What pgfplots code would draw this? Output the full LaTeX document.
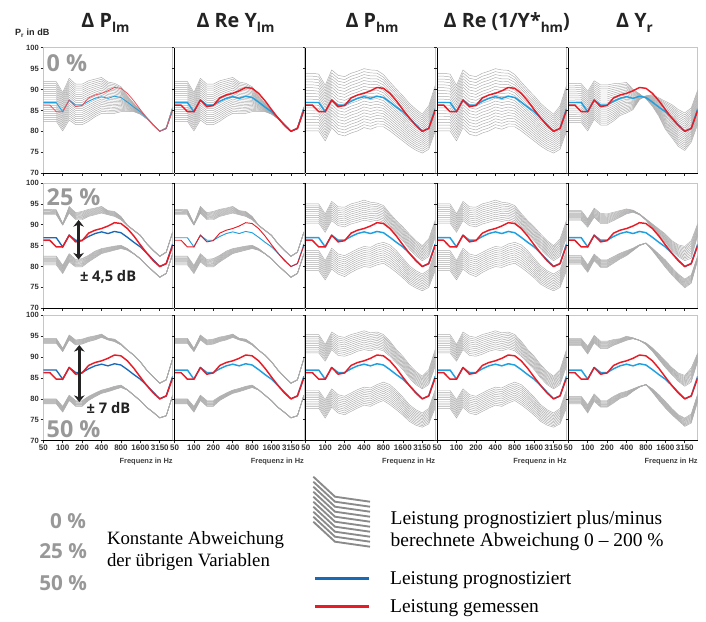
\documentclass[border=0pt]{standalone}
\usepackage{pgfplots}
\pgfplotsset{compat=1.18}
\usepackage{pgfplotstable}
\usepackage{fontspec}
\setmainfont{Liberation Serif}
\newfontfamily\osans{Open Sans}
\newfontfamily\arial{Liberation Sans}
\usetikzlibrary{arrows.meta}
\definecolor{gl}{RGB}{172,172,172}
\definecolor{lb}{RGB}{30,160,225}
\definecolor{db}{RGB}{25,105,185}
\definecolor{rd}{RGB}{232,28,38}
\definecolor{pg}{RGB}{152,152,152}
\definecolor{tx}{RGB}{35,35,35}

% columns: x b r | row0 extremes a0 z0 | row 25%: uo1 ui1 li1 lo1 | row 50%: uo2 ui2 li2 lo2 (offsets to b)
\pgfplotstableread{
x b r a0 z0 uo1 ui1 li1 lo1 uo2 ui2 li2 lo2
0 86.9 86.3 5.0 -4.5 6.8 5.5 -4.4 -6.5 7.6 6.4 -6.9 -8.1
1 86.9 86.3 5.0 -4.5 6.8 5.5 -4.4 -6.5 7.6 6.4 -6.9 -8.1
2 86.9 84.7 5.0 -4.5 6.7 5.5 -4.4 -6.5 7.6 6.4 -6.9 -8.1
3 84.7 84.7 4.6 -4.6 5.6 5.2 -4.4 -6.4 7.4 6.6 -6.5 -7.9
4 87.5 87.5 5.2 -4.8 6.9 5.3 -4.4 -6.4 7.8 6.6 -6.6 -7.9
5 86.3 85.9 5.0 -4.7 6.6 4.9 -4.6 -6.4 7.8 6.6 -6.7 -8.1
6 86.3 86.2 5.0 -4.7 6.9 4.9 -4.4 -6.4 8.0 6.8 -6.7 -8.1
7 87.2 88.0 4.9 -4.8 6.5 4.8 -4.5 -6.1 7.6 6.5 -6.6 -7.6
8 87.9 88.7 4.6 -4.4 6.1 4.5 -4.2 -5.8 7.2 6.2 -6.5 -7.4
9 88.3 89.1 4.6 -4.0 6.1 4.5 -4.0 -5.2 7.2 6.4 -6.2 -7.0
10 87.9 89.7 3.9 -3.6 5.5 4.5 -3.3 -4.4 6.6 6.2 -5.4 -6.2
11 88.4 90.5 3.1 -4.1 4.8 3.6 -3.5 -4.5 5.9 5.3 -5.4 -6.2
12 88.1 90.3 2.6 -3.4 3.9 3.1 -3.0 -3.8 5.1 4.8 -4.8 -5.4
13 87.0 89.1 1.5 -2.3 2.9 2.8 -2.7 -3.1 4.7 4.6 -4.8 -4.9
14 85.8 87.3 0.9 -1.1 2.9 2.8 -2.7 -2.8 4.7 4.6 -4.9 -5.0
15 84.7 85.2 0.3 -0.6 2.8 2.7 -2.8 -2.9 4.2 4.1 -5.1 -5.2
16 83.2 83.2 0.1 -0.2 2.3 2.2 -2.9 -3.0 3.7 3.6 -5.2 -5.3
17 81.6 81.4 0.0 0.0 2.3 2.2 -2.7 -2.8 3.7 3.6 -4.8 -4.9
18 80.0 80.0 0.0 0.0 2.5 2.4 -2.5 -2.6 3.8 3.7 -4.5 -4.6
19 80.7 80.7 0.2 -0.1 2.8 2.7 -2.3 -2.4 3.9 3.8 -4.7 -4.8
20 85.4 85.0 0.5 -0.4 2.9 2.8 -2.3 -2.4 4.3 4.2 -4.5 -4.6
}\tabLM

\pgfplotstableread{
x b r a0 z0 uo1 ui1 li1 lo1 uo2 ui2 li2 lo2
0 86.9 86.3 7.0 -6.8 8.1 3.5 -3.1 -7.9 8.5 4.1 -4.9 -9.2
1 86.9 86.3 7.0 -6.8 8.1 3.5 -3.1 -7.9 8.5 4.1 -4.9 -9.2
2 86.9 84.7 6.8 -6.8 8.1 3.5 -3.1 -7.9 8.5 4.1 -4.9 -9.2
3 84.7 84.7 6.3 -7.0 7.9 3.5 -3.3 -7.9 8.3 4.3 -4.9 -9.3
4 87.5 87.5 7.2 -6.6 8.1 3.5 -3.1 -8.1 8.5 4.3 -5.1 -9.5
5 86.3 85.9 7.1 -7.0 8.0 3.5 -3.3 -8.1 8.7 4.1 -5.3 -9.7
6 86.3 86.2 6.8 -7.4 7.9 3.2 -3.7 -8.7 8.4 3.9 -5.7 -10.1
7 87.2 88.0 6.7 -7.6 7.8 3.0 -3.8 -8.6 8.2 3.5 -5.8 -10.2
8 87.9 88.7 6.5 -7.8 7.5 2.7 -3.7 -8.5 7.9 3.5 -5.7 -10.1
9 88.3 89.1 6.7 -7.4 7.6 2.8 -3.5 -8.3 8.0 3.5 -5.5 -9.8
10 87.9 89.7 6.8 -7.4 7.5 2.9 -3.3 -8.1 7.9 3.6 -5.3 -9.7
11 88.4 90.5 6.2 -7.3 6.8 2.7 -3.0 -8.0 7.6 3.6 -5.0 -9.4
12 88.1 90.3 5.5 -7.0 6.5 2.5 -2.3 -7.3 7.3 3.4 -4.1 -8.5
13 87.0 89.1 4.8 -6.9 5.7 2.4 -1.8 -7.2 6.8 3.2 -3.6 -8.4
14 85.8 87.3 4.3 -6.9 5.2 2.0 -2.0 -7.2 6.0 2.8 -3.8 -8.4
15 84.7 85.2 3.8 -7.0 4.8 1.5 -2.7 -7.4 5.5 2.3 -4.3 -8.6
16 83.2 83.2 3.5 -6.7 4.6 1.0 -3.0 -7.4 5.0 1.8 -4.6 -8.6
17 81.6 81.4 3.7 -6.1 4.6 1.0 -2.6 -6.7 5.0 1.8 -4.2 -7.9
18 80.0 80.0 4.1 -5.2 5.0 1.4 -1.8 -5.8 5.4 2.4 -3.4 -6.8
19 80.7 80.7 5.4 -5.0 5.9 1.7 -1.5 -5.7 6.3 2.7 -3.0 -6.7
20 85.4 85.0 5.6 -5.4 5.7 1.6 -1.6 -6.4 6.4 2.4 -3.2 -7.6
}\tabHM

\pgfplotstableread{
x b r a0 z0 uo1 ui1 li1 lo1 uo2 ui2 li2 lo2
0 86.9 86.3 4.6 -4.8 6.5 4.2 -4.3 -6.3 7.5 5.9 -6.3 -8.1
1 86.9 86.3 4.6 -4.8 6.5 4.2 -4.3 -6.3 7.5 5.9 -6.3 -8.1
2 86.9 84.7 4.5 -4.8 6.5 4.2 -4.3 -6.3 7.5 5.9 -6.3 -8.1
3 84.7 84.7 4.9 -4.6 6.7 4.7 -4.3 -6.1 7.9 6.0 -6.1 -8.1
4 87.5 87.5 4.6 -4.6 6.5 4.3 -4.5 -6.1 7.7 5.9 -6.3 -8.1
5 86.3 85.9 4.8 -4.8 6.4 4.0 -4.7 -6.5 7.5 5.7 -6.7 -8.3
6 86.3 86.2 4.8 -4.8 6.3 4.0 -4.7 -6.5 7.5 5.7 -6.7 -8.3
7 87.2 88.0 4.2 -4.7 5.8 3.8 -4.8 -6.4 7.0 5.6 -6.6 -8.2
8 87.9 88.7 3.6 -4.1 5.5 3.9 -4.7 -6.1 6.5 5.5 -6.5 -7.8
9 88.3 89.1 3.4 -3.9 5.5 4.3 -4.5 -5.7 6.7 5.7 -6.5 -7.7
10 87.9 89.7 2.2 -2.7 5.6 5.1 -3.5 -4.1 6.7 6.5 -5.5 -6.1
11 88.4 90.5 0.6 -0.8 4.2 4.0 -3.2 -3.4 5.6 5.6 -5.4 -5.6
12 88.1 90.3 -0.3 0.4 3.3 3.0 -2.5 -2.5 5.3 4.9 -4.7 -4.7
13 87.0 89.1 -1.0 1.8 3.2 2.2 -2.6 -3.2 5.2 4.4 -4.6 -5.4
14 85.8 87.3 -2.2 2.2 3.2 1.6 -2.8 -4.0 4.9 3.6 -4.8 -6.2
15 84.7 85.2 -4.2 2.5 3.1 1.1 -3.1 -4.9 4.4 2.8 -5.3 -6.9
16 83.2 83.2 -4.7 3.2 3.0 0.6 -3.4 -5.2 4.3 2.6 -5.5 -7.0
17 81.6 81.4 -5.2 3.6 3.6 0.8 -3.4 -5.2 4.6 2.6 -5.4 -6.8
18 80.0 80.0 -4.6 4.4 4.8 1.4 -3.0 -5.1 5.6 3.0 -4.6 -6.6
19 80.7 80.7 -3.3 4.9 5.5 1.3 -2.7 -4.7 6.7 3.3 -4.3 -6.5
20 85.4 85.0 -3.7 4.5 4.9 2.0 -2.8 -3.8 5.6 3.6 -4.2 -6.0
}\tabYR

\pgfplotsset{
  gline/.style={color=gl, line width=0.35pt, forget plot, line join=round},
  bl/.style={color=lb, line width=1.1pt, line join=round},
  rl/.style={color=rd, line width=1.1pt, line join=round},
  panel/.style={scale only axis, width=97.05pt, height=93.975pt,
    xmin=0, xmax=20, ymin=70, ymax=100,
    xtick={0,3,...,18}, ytick={70,75,...,100},
    xtick pos=left, ytick pos=left, tick align=outside,
    major tick length=2pt, tick style={black!85, line width=0.5pt},
    axis line style={gray!45, line width=0.6pt},
    xticklabels={}, yticklabels={},
    x tick label style={font=\arial\bfseries\fontsize{6}{6.5}\selectfont, text=black!80, inner sep=1pt},
    y tick label style={font=\arial\bfseries\fontsize{5.7}{6}\selectfont, text=black!80, inner sep=1.2pt},
    anchor=north west, clip=true,
    after end axis/.append code={\draw[black, line width=0.7pt] (rel axis cs:0,0) -- (rel axis cs:1,0);}},
  leftblack/.style={after end axis/.append code={\draw[black, line width=0.7pt] (rel axis cs:0,0) -- (rel axis cs:0,1);}},
  ylab/.style={yticklabels={70,75,80,85,90,95,100}},
  xlab/.style={xticklabels={50,100,200,400,800,1600,3150}},
}

\newcommand\bundle[4]{\pgfplotsinvokeforeach{0,...,#4}{%
  \addplot[gline] table[x=x, y expr={\thisrow{b}+\thisrow{#2}+##1/#4*(\thisrow{#3}-\thisrow{#2})}] {#1};}}

% row 0 panel: one family
\newcommand\panelA[4]{%
 \begin{axis}[panel, at={(#1,#2)}, #4]
  \bundle{#3}{z0}{a0}{20}
  \addplot[bl] table[x=x,y=b] {#3};
  \addplot[rl] table[x=x,y=r] {#3};
 \end{axis}}
% rows 25 % / 50 %: two families
\newcommand\panelB[5]{%
 \begin{axis}[panel, at={(#1,#2)}, #5]
  \bundle{#3}{ui#4}{uo#4}{10}
  \bundle{#3}{lo#4}{li#4}{10}
  \addplot[bl] table[x=x,y=b] {#3};
  \addplot[rl] table[x=x,y=r] {#3};
 \end{axis}}

\begin{document}
\begin{tikzpicture}
% row 1 (0 %)
\panelA{32.475pt}{-35.85pt}{\tabLM}{ylab, bl/.style={color=lb, line width=0.6pt}, rl/.style={color={rgb,255:red,238;green,80;blue,90}, line width=0.6pt}}
\panelA{130.875pt}{-35.85pt}{\tabLM}{leftblack}
\panelA{229.35pt}{-35.85pt}{\tabHM}{leftblack}
\panelA{327.825pt}{-35.85pt}{\tabHM}{leftblack}
\panelA{426.225pt}{-35.85pt}{\tabYR}{leftblack}
% row 2 (25 %)
\panelB{32.475pt}{-137.25pt}{\tabLM}{1}{ylab, bl/.style={color=db, line width=1.0pt}}
\panelB{130.875pt}{-137.25pt}{\tabLM}{1}{leftblack, bl/.style={color=lb, line width=0.7pt}, rl/.style={color=rd, line width=0.7pt}}
\panelB{229.35pt}{-137.25pt}{\tabHM}{1}{leftblack}
\panelB{327.825pt}{-137.25pt}{\tabHM}{1}{leftblack}
\panelB{426.225pt}{-137.25pt}{\tabYR}{1}{leftblack}
% row 3 (50 %)
\panelB{32.475pt}{-236.475pt}{\tabLM}{2}{ylab, xlab, bl/.style={color=db, line width=1.0pt}}
\panelB{130.875pt}{-236.475pt}{\tabLM}{2}{leftblack, xlab}
\panelB{229.35pt}{-236.475pt}{\tabHM}{2}{leftblack, xlab}
\panelB{327.825pt}{-236.475pt}{\tabHM}{2}{leftblack, xlab}
\panelB{426.225pt}{-236.475pt}{\tabYR}{2}{leftblack, xlab}

\begin{scope}[x=0.75pt, y=-0.75pt, every node/.style={inner sep=0pt, outer sep=0pt}]
\path[use as bounding box] (0,0) rectangle (706,621);
% column titles
\begin{scope}[every node/.append style={anchor=base, text=tx, font=\osans\bfseries\fontsize{14.8}{16}\selectfont}]
\node at (105.5,27.3) {Δ P\raisebox{-3.8pt}{\fontsize{10.2}{12}\selectfont lm}};
\node at (235.5,27.3) {Δ Re Y\raisebox{-3.8pt}{\fontsize{10.2}{12}\selectfont lm}};
\node at (372,27.3) {Δ P\raisebox{-3.8pt}{\fontsize{10.2}{12}\selectfont hm}};
\node at (506.7,27.3) {Δ Re (1/Y*\raisebox{-3.8pt}{\fontsize{10.2}{12}\selectfont hm})};
\node at (634.5,27.3) {Δ Y\raisebox{-3.8pt}{\fontsize{10.2}{12}\selectfont r}};
\end{scope}
\node[anchor=base west, text=tx, font=\arial\bfseries\fontsize{6.8}{8}\selectfont] at (15,36) {P\textsubscript{r} in dB};
% row labels
\begin{scope}[every node/.append style={anchor=base west, text=pg, font=\osans\bfseries\fontsize{17.5}{19}\selectfont}]
\node at (46.7,71.7) {0 \%};
\node at (46.7,205) {25 \%};
\node at (46.7,437) {50 \%};
\end{scope}
% arrows
\draw[tx, line width=2pt, {Stealth[length=5pt,width=8pt]}-{Stealth[length=5pt,width=8pt]}] (78.6,220) -- (78.6,259.5);
\draw[tx, line width=2pt, {Stealth[length=5pt,width=8pt]}-{Stealth[length=5pt,width=8pt]}] (79.3,345) -- (79.3,402);
\node[anchor=base west, text=tx, font=\osans\bfseries\fontsize{11}{12}\selectfont] at (80,281) {± 4,5 dB};
\node[anchor=base west, text=tx, font=\osans\bfseries\fontsize{11}{12}\selectfont] at (86.7,413.3) {± 7 dB};
% axis titles
\foreach \xr in {172.7,303.9,435.2,566.5,697.7}
  \node[anchor=base east, text=black!75, font=\arial\bfseries\fontsize{5.6}{6}\selectfont] at (\xr,463.5) {Frequenz in Hz};
% legend, left part
\begin{scope}[every node/.append style={anchor=base east, text=pg, font=\osans\bfseries\fontsize{15.5}{17}\selectfont}]
\node at (86,528) {0 \%};
\node at (87,558) {25 \%};
\node at (87,590) {50 \%};
\end{scope}
\node[anchor=base west, font=\fontsize{14.1}{16}\selectfont] at (107,544.3) {Konstante Abweichung};
\node[anchor=base west, font=\fontsize{14.1}{16}\selectfont] at (107,566.3) {der übrigen Variablen};
% legend, right part
\foreach \i in {0,...,9}
  \draw[color={rgb,255:red,138;green,138;blue,138}, line width=1.4pt] (313.3,{476.7+5*\i}) -- (335,{496.7+5*\i}) -- (370,{501.7+5*\i});
\draw[db, line width=2.5pt] (315,578.3) -- (369,578.3);
\draw[rd, line width=2.5pt] (315,606.7) -- (369,606.7);
\node[anchor=base west, font=\fontsize{14.6}{17}\selectfont] at (390.7,524.3) {Leistung prognostiziert plus/minus};
\node[anchor=base west, font=\fontsize{14.6}{17}\selectfont] at (390.7,546) {berechnete Abweichung 0 – 200 \%};
\node[anchor=base west, font=\fontsize{14.6}{17}\selectfont] at (390.2,584.3) {Leistung prognostiziert};
\node[anchor=base west, font=\fontsize{14.6}{17}\selectfont] at (390.2,612.7) {Leistung gemessen};
\end{scope}
\end{tikzpicture}
\end{document}
